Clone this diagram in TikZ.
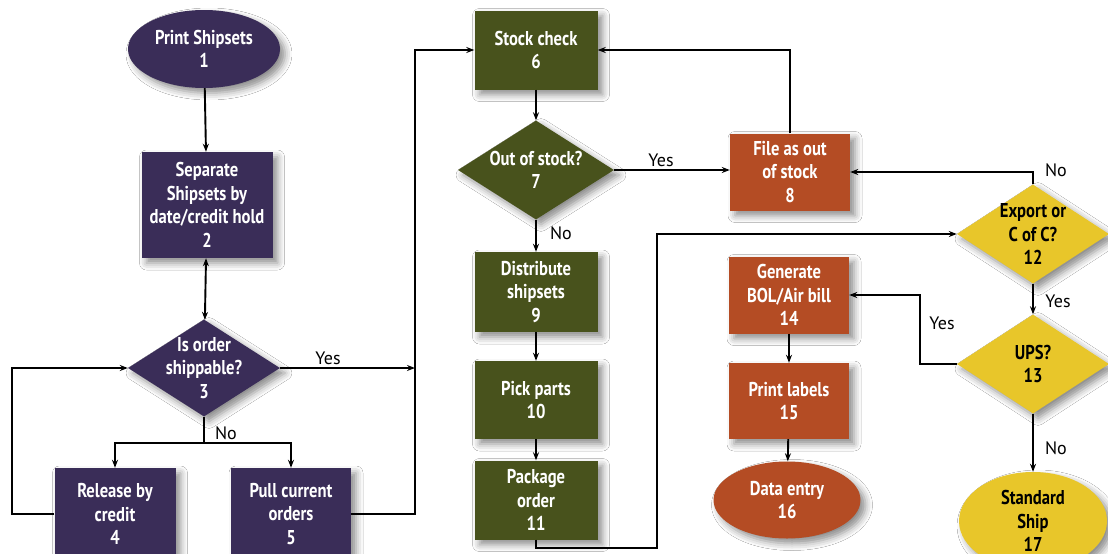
\documentclass[tikz,border=0pt]{standalone}
\usepackage{fontspec}
\setmainfont{PT Sans}
\newfontfamily\narrowfont[FakeStretch=0.83]{PT Sans Bold}
\usetikzlibrary{shapes.geometric,arrows.meta,shadows.blur}
\definecolor{plum}{RGB}{58,45,88}
\definecolor{olive}{RGB}{72,82,28}
\definecolor{rust}{RGB}{180,76,36}
\definecolor{gold}{RGB}{232,198,42}
\tikzset{
  base/.style={inner sep=0pt, align=center, font=\narrowfont\fontsize{20}{23.5}\selectfont,
    blur shadow={shadow xshift=5pt, shadow yshift=-5pt, shadow blur radius=7pt, shadow opacity=45}},
  stepbox/.style={base, rectangle, text=white},
  oval/.style={base, ellipse},
  decision/.style={base, diamond},
  dtext/.style={inner sep=0pt, align=center, font=\narrowfont\fontsize{20}{23.5}\selectfont},
  flow/.style={line width=1.9pt, -{Stealth[length=8pt,width=6pt]}},
  wire/.style={line width=1.9pt},
  tag/.style={font=\fontsize{18}{20}\selectfont, inner sep=0pt}
}
\begin{document}
\begin{tikzpicture}[x=1pt,y=-1pt]
\useasboundingbox (0,0) rectangle (1108,554);
\fill[white] (0,0) rectangle (1108,554);

% purple stage
\node[oval, fill=plum, text=white, minimum width=152pt, minimum height=78pt] (n1) at (204,49) {Print Shipsets\\1};
\node[stepbox, fill=plum, minimum width=131pt, minimum height=106pt] (n2) at (207,205) {Separate\\Shipsets by\\date/credit hold\\2};
\node[decision, fill=plum, minimum width=152pt, minimum height=97pt,
  label={[dtext, text=white]center:Is order\\shippable?\\3}] (n3) at (204,368) {};
\node[stepbox, fill=plum, minimum width=121pt, minimum height=92pt] (n4) at (115,514) {Release by\\credit\\4};
\node[stepbox, fill=plum, minimum width=120pt, minimum height=92pt] (n5) at (291,514) {Pull current\\orders\\5};

% green stage
\node[stepbox, fill=olive, minimum width=123pt, minimum height=79pt] (n6) at (536,50) {Stock check\\6};
\node[decision, fill=olive, minimum width=156pt, minimum height=99pt,
  label={[dtext, text=white]center:Out of stock?\\7}] (n7) at (536,170) {};
\node[stepbox, fill=olive, minimum width=123pt, minimum height=80pt] (n9) at (536,292) {Distribute\\shipsets\\9};
\node[stepbox, fill=olive, minimum width=123pt, minimum height=78pt] (n10) at (536,400) {Pick parts\\10};
\node[stepbox, fill=olive, minimum width=123pt, minimum height=79pt] (n11) at (536,500) {Package\\order\\11};

% orange stage
\node[stepbox, fill=rust, minimum width=120pt, minimum height=77pt] (n8) at (790,172) {File as out\\of stock\\8};
\node[stepbox, fill=rust, minimum width=120pt, minimum height=77pt] (n14) at (789,295) {Generate\\BOL/Air bill\\14};
\node[stepbox, fill=rust, minimum width=120pt, minimum height=76pt] (n15) at (789,401) {Print labels\\15};
\node[oval, fill=rust, text=white, minimum width=147pt, minimum height=77pt] (n16) at (787,500) {Data entry\\16};

% yellow stage
\node[decision, fill=gold, minimum width=152pt, minimum height=99pt,
  label={[dtext, text=black]center:Export or\\C of C?\\12}] (n12) at (1033,234) {};
\node[decision, fill=gold, minimum width=152pt, minimum height=99pt,
  label={[dtext, text=black]center:UPS?\\13}] (n13) at (1033,364) {};
\node[oval, fill=gold, text=black, minimum width=148pt, minimum height=98pt] (n17) at (1033,521) {Standard\\Ship\\17};

% routing points
\coordinate (c4) at (12,0);
\coordinate (c5) at (415,0);
\coordinate (c3) at (204,443);
\coordinate (c11) at (657,548);
\coordinate (c12) at (657,234);
\coordinate (c13) at (920,364);

% connectors
\draw[flow] (n1) -- (n2);
\draw[wire, {Stealth[length=8pt,width=6pt]}-{Stealth[length=8pt,width=6pt]}] (n2) -- (n3);
\draw[wire] (n3.south) -- (c3);
\draw[flow] (c3) -| (n4.north);
\draw[flow] (c3) -| (n5.north);
\draw[flow] (n4.west) -- (n4.west -| c4) |- (n3.west);
\draw[flow] (n3.east) -- (n3.east -| c5);
\draw[flow] (n5.east) -- (n5.east -| c5) |- (n6.west);
\draw[flow] (n6) -- (n7);
\draw[flow] (n7.east) -- (n7.east -| n8.west);
\draw[flow] (n8.north) |- (n6.east);
\draw[flow] (n7) -- (n9);
\draw[flow] (n9) -- (n10);
\draw[flow] (n10) -- (n11);
\draw[flow] (n11.south) |- (c11) -- (c12) -- (n12.west);
\draw[flow] (n12.north) |- (n8.east);
\draw[flow] (n12) -- (n13);
\draw[flow] (n13.west) -- (c13) |- (n14.east);
\draw[flow] (n13) -- (n17);
\draw[flow] (n14) -- (n15);
\draw[flow] (n15) -- (n16);

% branch labels
\node[tag] (l3y) at (328,358) {Yes};
\node[tag] (l3n) at (226,433) {No};
\node[tag] (l7y) at (661,160) {Yes};
\node[tag] (l7n) at (561,233) {No};
\node[tag] (l12n) at (1056,170) {No};
\node[tag] (l12y) at (1058,301) {Yes};
\node[tag] (l13y) at (942,323) {Yes};
\node[tag] (l13n) at (1056,448) {No};
\end{tikzpicture}
\end{document}
